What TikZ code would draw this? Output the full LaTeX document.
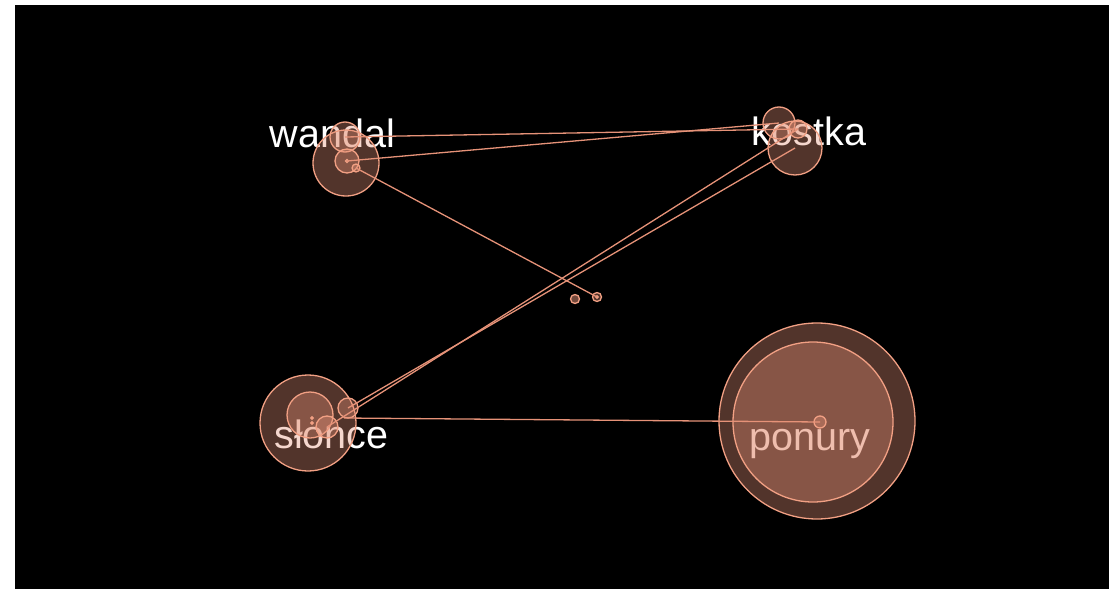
\documentclass[tikz,border=0pt]{standalone}
\usepackage{fontspec}
\setmainfont{Liberation Sans}
\definecolor{salmon}{RGB}{230,146,120}
\definecolor{ring}{RGB}{242,160,132}
\begin{document}
\begin{tikzpicture}[x=1pt,y=-1pt,
  blob/.style={circle,inner sep=0pt,draw=ring,line width=1.3pt,fill=salmon,fill opacity=0.36},
  link/.style={draw=salmon,line width=1.3pt},
  word/.style={text=white,font=\fontsize{39.5}{40}\selectfont,anchor=base,inner sep=0pt}]
% canvas
\fill[white] (0,0) rectangle (1109,589);
\fill[black] (15,5) rectangle (1109,589);
\useasboundingbox (0,0) rectangle (1109,589);

% labels (under the translucent circles)
\node[word] (twandal) at (332.5,147) {wandal};
\node[word] (tkostka) at (809,145) {kostka};
\node[word] (tslonce) at (331.5,448) {słonce};
\node[word] (tponury) at (810,450) {ponury};

% wandal cluster
\node[blob,minimum size=66pt] (wa) at (346,163) {};
\node[blob,minimum size=30pt] (wb) at (345,137) {};
\node[blob,minimum size=24pt] (wc) at (347,161) {};
\node[blob,minimum size=8pt]  (wd) at (356,168) {};
\node[blob,minimum size=3pt]  (we) at (347,161) {};

% kostka cluster
\node[blob,minimum size=32pt] (ka) at (779,123) {};
\node[blob,minimum size=54pt] (kb) at (795,148) {};
\node[blob,minimum size=18pt] (kc) at (798,129) {};

% slonce cluster
\node[blob,minimum size=96pt] (sa) at (308,423) {};
\node[blob,minimum size=46pt] (sb) at (310,415) {};
\node[blob,minimum size=20pt] (sc) at (348,408) {};
\node[blob,minimum size=22pt] (sd) at (327,427) {};
\node[blob,minimum size=2.5pt] (se) at (312,418) {};
\node[blob,minimum size=2.5pt] (sf) at (312,423) {};
\coordinate (sp) at (344,418);

% ponury cluster
\node[blob,minimum size=196pt] (pa) at (817,421) {};
\node[blob,minimum size=160pt] (pb) at (813,422) {};
\node[blob,minimum size=12pt]  (pc) at (820,422) {};

% loose points in the middle
\node[blob,minimum size=9pt,fill opacity=0.5] (m1) at (575,299) {};
\node[blob,minimum size=9pt] (m2) at (597,297) {};
\node[blob,minimum size=2.5pt] (m3) at (597,297) {};

% connectors
\draw[link] (wb.center) -- (kc.center);
\draw[link] (wc.center) -- (ka.center);
\draw[link] (wd.center) -- (m2.center);
\draw[link] (sc.center) -- (kb.center);
\draw[link] (sd.center) -- (kc.center);
\draw[link] (sp) -- (pc.center);
\end{tikzpicture}
\end{document}
